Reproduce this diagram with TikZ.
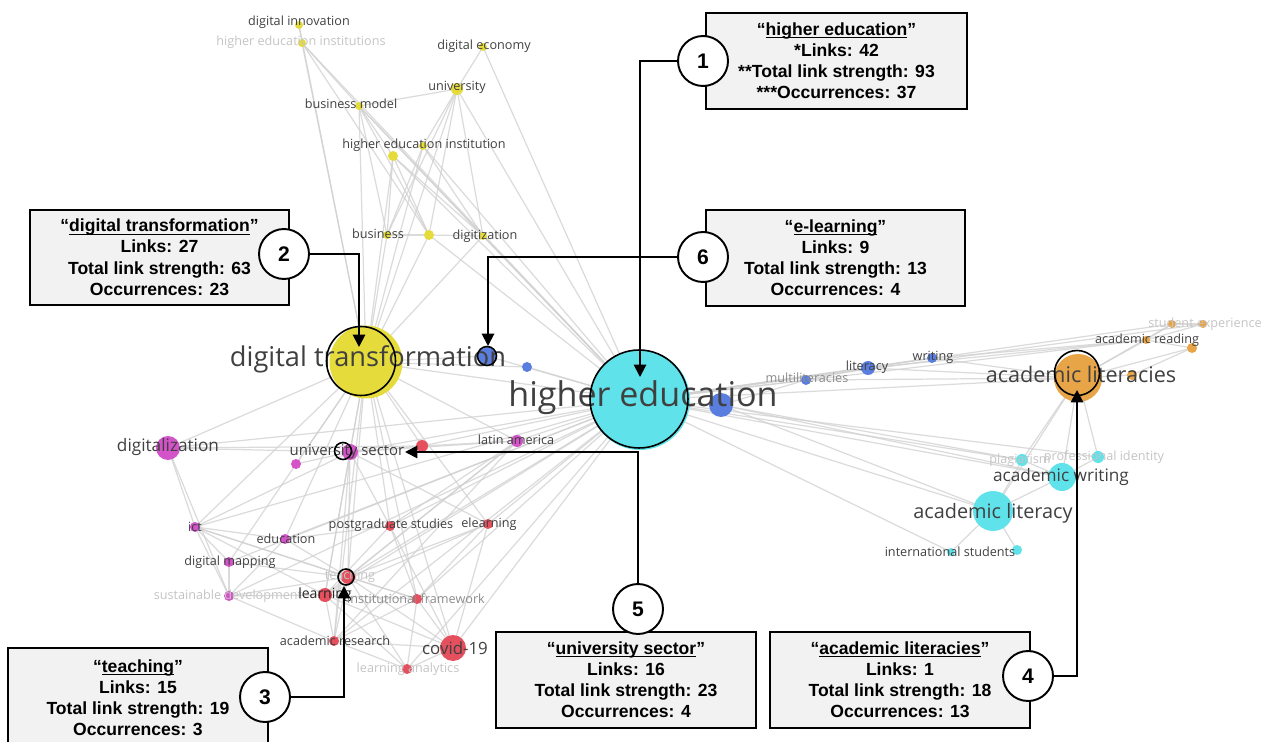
\documentclass[tikz,border=0pt]{standalone}
\usepackage{fontspec}
\setmainfont{Liberation Sans}
\newfontfamily\osans{Open Sans}
\usetikzlibrary{arrows.meta}
\pgfdeclarelayer{bg}
\pgfsetlayers{bg,main}
\definecolor{yel}{HTML}{E5DC3C}
\definecolor{cya}{HTML}{5FE2EA}
\definecolor{blu}{HTML}{5A7EDF}
\definecolor{ora}{HTML}{E8A547}
\definecolor{mag}{HTML}{D353C9}
\definecolor{rdd}{HTML}{E4505E}
\definecolor{labdark}{HTML}{404040}
\definecolor{labmid}{HTML}{8C8C8C}
\definecolor{labfade}{HTML}{C4C4C4}
\definecolor{edgegray}{HTML}{CFCFCF}
\definecolor{boxgray}{HTML}{F2F2F2}
\newcommand{\ulterm}[1]{\underline{\smash{#1}}}
\begin{document}
\begin{tikzpicture}[x=0.02cm,y=-0.02cm,
  vn/.style={circle,inner sep=0pt,minimum size=#1,draw=none},
  lab/.style={font=\osans\fontsize{7.2}{8}\selectfont,text=labdark,inner sep=0pt},
  edge/.style={draw=edgegray,line width=0.7pt,opacity=0.75},
  abox/.style={draw=black,line width=0.9pt,fill=boxgray,minimum width=5.22cm,minimum height=1.92cm,align=center,font=\bfseries\fontsize{10}{12.1}\selectfont,inner sep=2pt},
  num/.style={circle,draw=black,line width=1.1pt,fill=white,minimum size=1.0cm,inner sep=0pt,font=\bfseries\fontsize{12}{14}\selectfont},
  arr/.style={draw=black,line width=1.1pt,-{Triangle[length=7pt,width=7pt]}},
  hl/.style={circle,draw=black,line width=0.9pt,inner sep=0pt,fill=none}]
\useasboundingbox (0,0) rectangle (1266,742);
% ---------- network nodes ----------
% yellow
\node[vn=0.16cm,fill=yel] (y1) at (299,25) {};
\node[vn=0.16cm,fill=yel] (y2) at (302,43) {};
\node[vn=0.16cm,fill=yel] (y3) at (483,47) {};
\node[vn=0.24cm,fill=yel] (y4) at (457,89) {};
\node[vn=0.16cm,fill=yel] (y5) at (359,106) {};
\node[vn=0.16cm,fill=yel] (y6) at (423,146) {};
\node[vn=0.2cm,fill=yel] (y7) at (393,156) {};
\node[vn=0.16cm,fill=yel] (y8) at (387,235) {};
\node[vn=0.2cm,fill=yel] (y9) at (429,235) {};
\node[vn=0.16cm,fill=yel] (y10) at (483,236) {};
\node[vn=1.46cm,fill=yel] (y11) at (366,362) {};
% blue
\node[vn=0.36cm,fill=blu] (b1) at (487,356) {};
\node[vn=0.2cm,fill=blu] (b2) at (527,367) {};
\node[vn=0.48cm,fill=blu] (b3) at (721,405) {};
\node[vn=0.2cm,fill=blu] (b4) at (806,380) {};
\node[vn=0.28cm,fill=blu] (b5) at (868,368) {};
\node[vn=0.2cm,fill=blu] (b6) at (932,358) {};
% orange
\node[vn=0.96cm,fill=ora] (o1) at (1078,378) {};
\node[vn=0.16cm,fill=ora] (o2) at (1172,324) {};
\node[vn=0.16cm,fill=ora] (o3) at (1203,324) {};
\node[vn=0.16cm,fill=ora] (o4) at (1146,340) {};
\node[vn=0.2cm,fill=ora] (o5) at (1192,348) {};
\node[vn=0.2cm,fill=ora] (o6) at (1132,375) {};
% cyan
\node[vn=2.0cm,fill=cya] (h1) at (640,400) {};
\node[vn=0.24cm,fill=cya] (h2) at (1022,460) {};
\node[vn=0.24cm,fill=cya] (h3) at (1098,457) {};
\node[vn=0.56cm,fill=cya] (h4) at (1062,477) {};
\node[vn=0.8cm,fill=cya] (h5) at (993,511) {};
\node[vn=0.16cm,fill=cya] (h6) at (951,552) {};
\node[vn=0.2cm,fill=cya] (h7) at (1017,550) {};
% magenta
\node[vn=0.48cm,fill=mag] (m1) at (168,448) {};
\node[vn=0.32cm,fill=mag] (m2) at (350,452) {};
\node[vn=0.2cm,fill=mag] (m3) at (296,464) {};
\node[vn=0.24cm,fill=mag] (m4) at (517,441) {};
\node[vn=0.2cm,fill=mag] (m5) at (195,527) {};
\node[vn=0.2cm,fill=mag] (m6) at (285,539) {};
\node[vn=0.2cm,fill=mag] (m7) at (229,562) {};
\node[vn=0.2cm,fill=mag] (m8) at (229,596) {};
% red
\node[vn=0.24cm,fill=rdd] (r1) at (422,446) {};
\node[vn=0.2cm,fill=rdd] (r2) at (390,526) {};
\node[vn=0.2cm,fill=rdd] (r3) at (488,524) {};
\node[vn=0.28cm,fill=rdd] (r4) at (348,577) {};
\node[vn=0.28cm,fill=rdd] (r5) at (325,595) {};
\node[vn=0.2cm,fill=rdd] (r6) at (417,599) {};
\node[vn=0.2cm,fill=rdd] (r7) at (334,641) {};
\node[vn=0.52cm,fill=rdd] (r8) at (453,648) {};
\node[vn=0.2cm,fill=rdd] (r9) at (407,669) {};
% ---------- edges ----------
\begin{pgfonlayer}{bg}
\foreach \a/\b in {y1/y11,y2/y11,y2/y5,y2/y9,y2/h1,y1/y2,y3/y4,y3/h1,
 y4/y5,y4/y6,y4/y8,y4/y9,y4/y11,y4/h1,y4/y10,
 y5/y7,y5/y8,y5/y10,y5/y11,y5/h1,y5/y9,
 y6/y11,y6/h1,y6/y8,y6/y10,
 y7/y8,y7/y11,y7/h1,y7/y10,y7/y9,
 y8/y9,y9/y10,y8/y11,y9/y11,y10/y11,y10/h1,y9/h1,
 y11/m1,y11/m2,y11/m3,y11/r1,y11/b1,y11/h1,y11/m5,y11/m6,y11/m7,y11/r2,y11/r4,y11/r5,y11/r6,y11/r8,y11/m4,y11/b2,y11/r3,y11/r7,
 h1/b3,h1/b4,h1/b5,h1/b6,h1/o1,h1/o4,h1/o2,h1/o3,h1/h5,h1/h4,h1/h2,h1/h6,h1/m4,h1/m2,h1/r1,h1/r2,h1/r3,h1/r4,h1/r5,h1/r6,h1/r8,h1/r9,h1/m1,h1/b1,h1/b2,h1/m6,h1/m5,h1/r7,h1/m8,h1/m7,h1/h3,
 b3/b4,b4/b5,b5/b6,b6/o1,b5/o1,b6/o4,b5/o4,b4/o1,
 o1/o4,o1/o5,o1/o6,o1/h4,o1/h2,o1/h3,o1/h5,o4/o2,o4/o3,o4/o5,o2/o3,o5/o6,o2/o1,
 h5/h4,h5/h6,h5/h7,h5/h2,h4/h2,h4/h3,b3/h5,b3/h4,b3/h2,
 m1/m5,m1/m8,m1/m2,m1/r1,
 m5/m7,m5/m8,m5/r5,m5/r4,m5/m2,m5/r6,m5/m6,
 m8/m7,m8/r5,m8/r4,m8/m6,m8/r7,
 m2/m3,m2/r1,m2/r2,m2/r5,m2/r7,m2/r4,m2/m4,
 m6/r4,m6/r2,m7/r4,
 r8/r9,r8/r6,r8/r3,r8/r2,r8/r7,r8/r4,r8/r5,
 r7/r5,r7/r4,r7/r9,r7/r6,
 r3/r4,r3/r5,r3/m2,r2/r5,r2/r6,r4/r6,r5/r6,r6/r3,
 r9/r5,r9/r4,r9/r6,
 m4/r1,m4/r2,m4/r5,m4/r7,m4/r4}
 \draw[edge] (\a.center) -- (\b.center);
\end{pgfonlayer}
% ---------- labels ----------
\node[lab] (ly1) at (299,22) {digital innovation};
\node[lab,text=labfade] (ly2) at (301,42) {higher education institutions};
\node[lab] (ly3) at (484,46) {digital economy};
\node[lab] (ly4) at (457,87) {university};
\node[lab] (ly5) at (351,104) {business model};
\node[lab] (ly6) at (424,145) {higher education institution};
\node[lab] (ly8) at (378,234) {business};
\node[lab] (ly10) at (485,236) {digitization};
\node[lab,font=\osans\fontsize{15.5}{18}\selectfont] (ly11) at (368,359) {digital transformation};
\node[lab,font=\osans\fontsize{19.4}{22}\selectfont] (lh1) at (643,398) {higher education};
\node[lab,text=labmid] (lb4) at (807,378) {multiliteracies};
\node[lab] (lb5) at (867,367) {literacy};
\node[lab] (lb6) at (933,357) {writing};
\node[lab,font=\osans\fontsize{12.3}{14}\selectfont] (lo1) at (1081,374) {academic literacies};
\node[lab,text=labfade] (lo2) at (1205,324) {student experience};
\node[lab] (lo4) at (1147,340) {academic reading};
\node[lab,text=labfade] (lh2) at (1020,460) {plagiarism};
\node[lab,text=labfade] (lh3) at (1104,457) {professional identity};
\node[lab,font=\osans\fontsize{9.8}{12}\selectfont] (lh4) at (1061,477) {academic writing};
\node[lab,font=\osans\fontsize{11.3}{13}\selectfont] (lh5) at (993,513) {academic literacy};
\node[lab] (lh6) at (950,552) {international students};
\node[lab,font=\osans\fontsize{9.8}{12}\selectfont] (lm1) at (168,447) {digitalization};
\node[lab,font=\osans\fontsize{8.5}{10}\selectfont] (lm2) at (347,452) {university sector};
\node[lab] (lm4) at (516,440) {latin america};
\node[lab] (lm5) at (195,527) {ict};
\node[lab] (lm6) at (286,539) {education};
\node[lab] (lm7) at (230,562) {digital mapping};
\node[lab,text=labfade] (lm8) at (228,596) {sustainable development};
\node[lab] (lr2) at (391,525) {postgraduate studies};
\node[lab] (lr3) at (489,524) {elearning};
\node[lab,text=labfade] (lr4) at (350,576) {teaching};
\node[lab,text=black!85,font=\osans\fontsize{8}{9}\selectfont] (lr5) at (325,595) {learning};
\node[lab,text=labmid] (lr6) at (416,599) {institutional framework};
\node[lab] (lr7) at (335,641) {academic research};
\node[lab,font=\osans\fontsize{9.6}{11}\selectfont] (lr8) at (455,648) {covid-19};
\node[lab,text=labfade] (lr9) at (408,669) {learning analytics};
% ---------- highlight circles ----------
\node[hl,minimum size=1.96cm] (k1) at (639,399) {};
\node[hl,minimum size=1.38cm] (k2) at (361,361) {};
\node[hl,minimum size=0.38cm] (k6) at (487,356) {};
\node[hl,minimum size=0.32cm] (k3) at (346,577) {};
\node[hl,minimum size=0.34cm] (k5) at (343,451) {};
\node[hl,minimum size=0.9cm] (k4) at (1077,373) {};
% ---------- annotation boxes ----------
\node[abox] (bx1) at (836.5,61) {``\ulterm{higher education}''\\*Links: 42\\**Total link strength: 93\\***Occurrences: 37};
\node[abox,minimum width=5.18cm,minimum height=1.9cm] (bx2) at (159.5,257.5) {``\ulterm{digital transformation}''\\Links: 27\\Total link strength: 63\\Occurrences: 23};
\node[abox,minimum width=5.18cm] (bx6) at (835.5,258) {``\ulterm{e-learning}''\\Links: 9\\Total link strength: 13\\Occurrences: 4};
\node[abox,minimum width=5.2cm,minimum height=2.0cm] (bx3) at (138,698) {``\ulterm{teaching}''\\Links: 15\\Total link strength: 19\\Occurrences: 3};
\node[abox,minimum width=5.2cm] (bx5) at (626,680) {``\ulterm{university sector}''\\Links: 16\\Total link strength: 23\\Occurrences: 4};
\node[abox,minimum width=5.2cm] (bx4) at (900,680) {``\ulterm{academic literacies}''\\Links: 1\\Total link strength: 18\\Occurrences: 13};
% ---------- arrow targets ----------
\coordinate (t1) at (640,377);
\coordinate (t2) at (359,347);
\coordinate (t6) at (488,346);
\coordinate (t3) at (344,586);
\coordinate (t5) at (405,452);
\coordinate (t4) at (1077,390);
% ---------- number circles ----------
\node[num] (n1) at (703,61) {1};
\node[num] (n2) at (284,254) {2};
\node[num] (n6) at (703,257) {6};
\node[num] (n3) at (265,697) {3};
\node[num] (n5) at (638,609) {5};
\node[num] (n4) at (1028,676) {4};
% ---------- connectors ----------
\draw[arr] (n1.west) -| (t1);
\draw[arr] (n2.east) -| (t2);
\draw[arr] (n6.west) -| (t6);
\draw[arr] (n3.east) -| (t3);
\draw[arr] (n5.north) |- (t5);
\draw[arr] (n4.east) -| (t4);
\end{tikzpicture}
\end{document}
